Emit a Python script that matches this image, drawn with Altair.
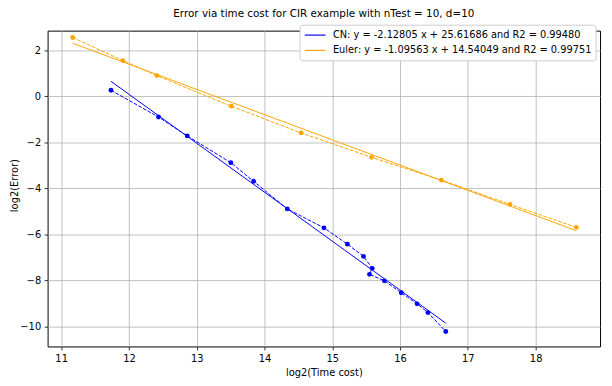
import altair as alt
import pandas as pd

cn_label = "CN: y = -2.12805 x + 25.61686 and R2 = 0.99480"
eu_label = "Euler: y = -1.09563 x + 14.54049 and R2 = 0.99751"

cn_x = [11.735, 12.436, 12.860, 13.503, 13.839, 14.336, 14.877, 15.223,
        15.461, 15.589, 15.549, 15.768, 16.017, 16.251, 16.411, 16.674]
cn_y = [0.26, -0.90, -1.72, -2.88, -3.69, -4.89, -5.71, -6.42,
        -6.95, -7.47, -7.73, -8.01, -8.53, -9.01, -9.39, -10.21]

eu_x = [11.17, 11.91, 12.41, 13.51, 14.54, 15.58, 16.61, 17.62, 18.60]
eu_y = [2.55, 1.55, 0.90, -0.43, -1.59, -2.65, -3.64, -4.69, -5.69]

x_ticks = [11, 12, 13, 14, 15, 16, 17, 18]
y_ticks = [2, 0, -2, -4, -6, -8, -10]

rows = []
for i, (a, b) in enumerate(zip(cn_x, cn_y)):
    rows.append({"x": a, "y": b, "series": cn_label, "idx": i})
for i, (a, b) in enumerate(zip(eu_x, eu_y)):
    rows.append({"x": a, "y": b, "series": eu_label, "idx": i})
df = pd.DataFrame(rows)

FONT = "DejaVu Sans"

xs = alt.Scale(domain=[10.8, 18.95], nice=False, zero=False)
ys = alt.Scale(domain=[-10.86, 2.85], nice=False, zero=False)
color = alt.Color(
    "series:N",
    scale=alt.Scale(domain=[cn_label, eu_label], range=["#0000ff", "#ffa500"]),
    legend=alt.Legend(
        title=None, orient="none", legendX=254.5, legendY=-6,
        symbolType="M-1,0H3", symbolSize=110, symbolStrokeWidth=1.2,
        symbolFillColor="transparent",
        labelFont=FONT, labelFontSize=9.9, labelColor="#000000", labelOffset=17.2,
        padding=4.5, rowPadding=4.5, strokeColor="#cccccc", fillColor="#ffffff",
        cornerRadius=3, labelLimit=400,
    ),
)

xenc = alt.X("x:Q", scale=xs, title="log2(Time cost)",
             axis=alt.Axis(values=x_ticks, format="d"))
yenc = alt.Y("y:Q", scale=ys, title="log2(Error)",
             axis=alt.Axis(values=y_ticks, format="d", titleY=156,
                           labelExpr="replace(datum.label, '-', '\u2212')"))

base = alt.Chart(df)

fit = base.transform_regression("x", "y", groupby=["series"]).mark_line(
    strokeWidth=1, clip=True
).encode(x=xenc, y=yenc, color=color)

dashed = base.mark_line(strokeWidth=1, strokeDash=[3.7, 1.6]).encode(
    x=xenc, y=yenc, color=alt.Color("series:N", legend=None), order="idx:Q"
)

pts = base.mark_circle(size=24, opacity=1).encode(
    x=xenc, y=yenc, color=alt.Color("series:N", legend=None)
)

chart = alt.layer(fit, dashed, pts).properties(
    width=558, height=319,
    title=alt.Title("Error via time cost for CIR example with nTest = 10, d=10",
                    font=FONT, fontSize=10.5, fontWeight="normal",
                    color="#000000", anchor="middle", offset=4.5),
    autosize=alt.AutoSizeParams(type="none"),
    padding={"left": 40, "top": 21, "right": 4, "bottom": 30},
).configure_view(
    stroke="#000000", strokeWidth=1
).configure_axis(
    grid=True, gridColor="#b0b0b0", gridWidth=0.8, domain=False,
    tickColor="#000000", tickSize=3.5, tickWidth=0.8,
    labelFont=FONT, labelFontSize=10, labelColor="#000000", labelPadding=3.5,
    titleFont=FONT, titleFontSize=10, titleFontWeight="normal", titleColor="#000000",
).configure_axisX(titlePadding=4).configure_axisY(titlePadding=0)

chart.save("out.html", embed_options={"renderer": "svg", "actions": False})
